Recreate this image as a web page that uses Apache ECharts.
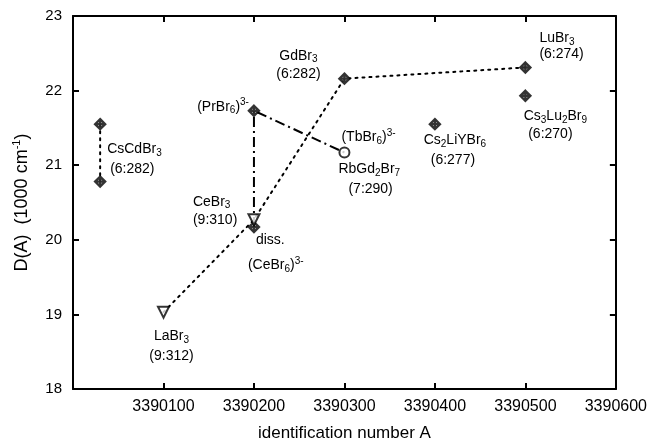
<!DOCTYPE html>
<html>
<head>
<meta charset="utf-8">
<script src="https://cdn.jsdelivr.net/npm/echarts@6/dist/echarts.min.js"></script>
<style>
  html, body { margin: 0; padding: 0; background: #fff; }
  #main { width: 650px; height: 447px; }
</style>
</head>
<body>
<div id="main"></div>
<script>
// x axis ticks
const xTicks = [3390000, 3390100, 3390200, 3390300, 3390400, 3390500, 3390600]
const yTicks = [18, 19, 20, 21, 22, 23]

// CsCdBr3 pair (dotted vertical)
const csCdBr3 = [[3390030, 21.55], [3390030, 20.78]]
// LaBr3 -> CeBr3 -> GdBr3 -> LuBr3 (dotted)
const trihalides = [[3390100, 19.03], [3390200, 20.27], [3390300, 22.16], [3390500, 22.31]]
// (CeBr6)3- -> (PrBr6)3- -> (TbBr6)3- (dash-dot)
const hexahalides = [[3390200, 20.17], [3390200, 21.73], [3390300, 21.17]]

// markers
const diamondPoints = [
  [3390030, 21.55], [3390030, 20.78], [3390200, 21.73], [3390200, 20.17],
  [3390300, 22.16], [3390400, 21.55], [3390500, 22.31], [3390500, 21.93]
]
const trianglePoints = [[3390100, 19.03], [3390200, 20.27]]
const circlePoints = [[3390300, 21.17]]

// annotation texts: [text, anchor point, dx, dy, align]
const labels = [
  ['CsCdBr{s|3}', [3390030, 21.55], 7, 25, 'left'],
  ['(6:282)', [3390030, 21.55], 10, 45, 'left'],
  ['GdBr{s|3}', [3390300, 22.16], -46, -23, 'center'],
  ['(6:282)', [3390300, 22.16], -46, -5, 'center'],
  ['(PrBr{s|6}){p|3-}', [3390200, 21.73], -5, -4, 'right'],
  ['(TbBr{s|6}){p|3-}', [3390300, 21.17], -3, -15, 'left'],
  ['RbGd{s|2}Br{s|7}', [3390300, 21.17], -6, 17, 'left'],
  ['(7:290)', [3390300, 21.17], 4, 37, 'left'],
  ['CeBr{s|3}', [3390200, 20.27], -61, -18, 'left'],
  ['(9:310)', [3390200, 20.27], -61, 0, 'left'],
  ['diss.', [3390200, 20.17], 2, 13, 'left'],
  ['(CeBr{s|6}){p|3-}', [3390200, 20.17], -6, 38, 'left'],
  ['LaBr{s|3}', [3390100, 19.03], 8, 24, 'center'],
  ['(9:312)', [3390100, 19.03], 8, 44, 'center'],
  ['Cs{s|2}LiYBr{s|6}', [3390400, 21.55], 20, 16, 'center'],
  ['(6:277)', [3390400, 21.55], 18, 36, 'center'],
  ['LuBr{s|3}', [3390500, 22.31], 14, -29, 'left'],
  ['(6:274)', [3390500, 22.31], 14, -13, 'left'],
  ['Cs{s|3}Lu{s|2}Br{s|9}', [3390500, 21.93], 30, 20, 'center'],
  ['(6:270)', [3390500, 21.93], 25, 38, 'center']
]

const FONT = 'Liberation Sans, Arial, sans-serif'

const rich = {
  s: { fontSize: 10, lineHeight: 10, verticalAlign: 'bottom', fontFamily: FONT, fill: '#000' },
  p: { fontSize: 10, lineHeight: 10, verticalAlign: 'top', fontFamily: FONT, fill: '#000' }
}

const diamond = 'path://M0,-5 L5,0 L0,5 L-5,0 Z M0,-5 L0,5 M-5,0 L5,0'

const chart = echarts.init(document.getElementById('main'))

function baseX(pos) {
  return {
    type: 'value',
    position: pos,
    min: xTicks[0],
    max: xTicks[xTicks.length - 1],
    interval: 100,
    axisLine: { onZero: false, lineStyle: { color: '#000', width: 2 } },
    axisTick: { inside: true, length: 6, lineStyle: { color: '#000', width: 2 } },
    splitLine: { show: false },
    axisLabel: { show: false }
  }
}

function baseY(pos) {
  return {
    type: 'value',
    position: pos,
    min: yTicks[0],
    max: yTicks[yTicks.length - 1],
    interval: 1,
    axisLine: { onZero: false, lineStyle: { color: '#000', width: 2 } },
    axisTick: { inside: true, length: 6, lineStyle: { color: '#000', width: 2 } },
    splitLine: { show: false },
    axisLabel: { show: false }
  }
}

const xBottom = baseX('bottom')
xBottom.axisLabel = {
  show: true, showMinLabel: false, color: '#000', fontSize: 16, fontFamily: FONT, margin: 10,
  formatter: (v) => String(v)
}
xBottom.name = 'identification number A'
xBottom.nameLocation = 'middle'
xBottom.nameGap = 36
xBottom.nameTextStyle = { color: '#000', fontSize: 17, fontFamily: FONT }

const yLeft = baseY('left')
yLeft.axisLabel = { show: true, color: '#000', fontSize: 15, fontFamily: FONT, margin: 11 }
yLeft.name = 'D(A)  (1000 cm{p|-1})'
yLeft.nameLocation = 'middle'
yLeft.nameGap = 40
yLeft.nameTextStyle = {
  color: '#000', fontSize: 18, fontFamily: FONT, lineHeight: 22,
  rich: { p: { fontSize: 11, lineHeight: 11, verticalAlign: 'top', fontFamily: FONT, color: '#000' } }
}

const dotted = { color: '#000', width: 2, type: [2, 5], cap: 'round' }

const option = {
  animation: false,
  grid: { left: 73, right: 32, top: 16, bottom: 53 },
  xAxis: [xBottom, baseX('top')],
  yAxis: [yLeft, baseY('right')],
  series: [
    { type: 'line', data: csCdBr3, symbol: 'none', lineStyle: dotted, z: 2 },
    { type: 'line', data: trihalides, symbol: 'none', lineStyle: dotted, z: 2 },
    {
      type: 'line', data: hexahalides, symbol: 'none', z: 2,
      lineStyle: { color: '#000', width: 2, type: [10, 4, 2, 4] }
    },
    {
      type: 'scatter', data: diamondPoints, symbol: diamond, symbolSize: 10, z: 3,
      itemStyle: { color: '#fff', borderColor: '#000', borderWidth: 2.4 }
    },
    {
      type: 'scatter', data: trianglePoints, symbol: 'triangle', symbolRotate: 180, symbolSize: 11, z: 3,
      itemStyle: { color: '#fff', borderColor: '#000', borderWidth: 2 }
    },
    {
      type: 'scatter', data: circlePoints, symbol: 'circle', symbolSize: 10, z: 3,
      itemStyle: { color: '#fff', borderColor: '#000', borderWidth: 2 }
    }
  ]
}

chart.setOption(option)

// place the annotation texts next to their points
function drawLabels() {
  const elements = labels.map((l) => {
    const p = chart.convertToPixel({ xAxisIndex: 0, yAxisIndex: 0 }, l[1])
    return {
      type: 'text',
      x: p[0] + l[2],
      y: p[1] + l[3],
      z: 10,
      style: {
        text: l[0],
        rich: rich,
        fill: '#000',
        fontSize: 14,
        fontFamily: FONT,
        lineHeight: 18,
        align: l[4],
        verticalAlign: 'middle'
      }
    }
  })
  chart.setOption({ graphic: elements })
}

drawLabels()
</script>
</body>
</html>
